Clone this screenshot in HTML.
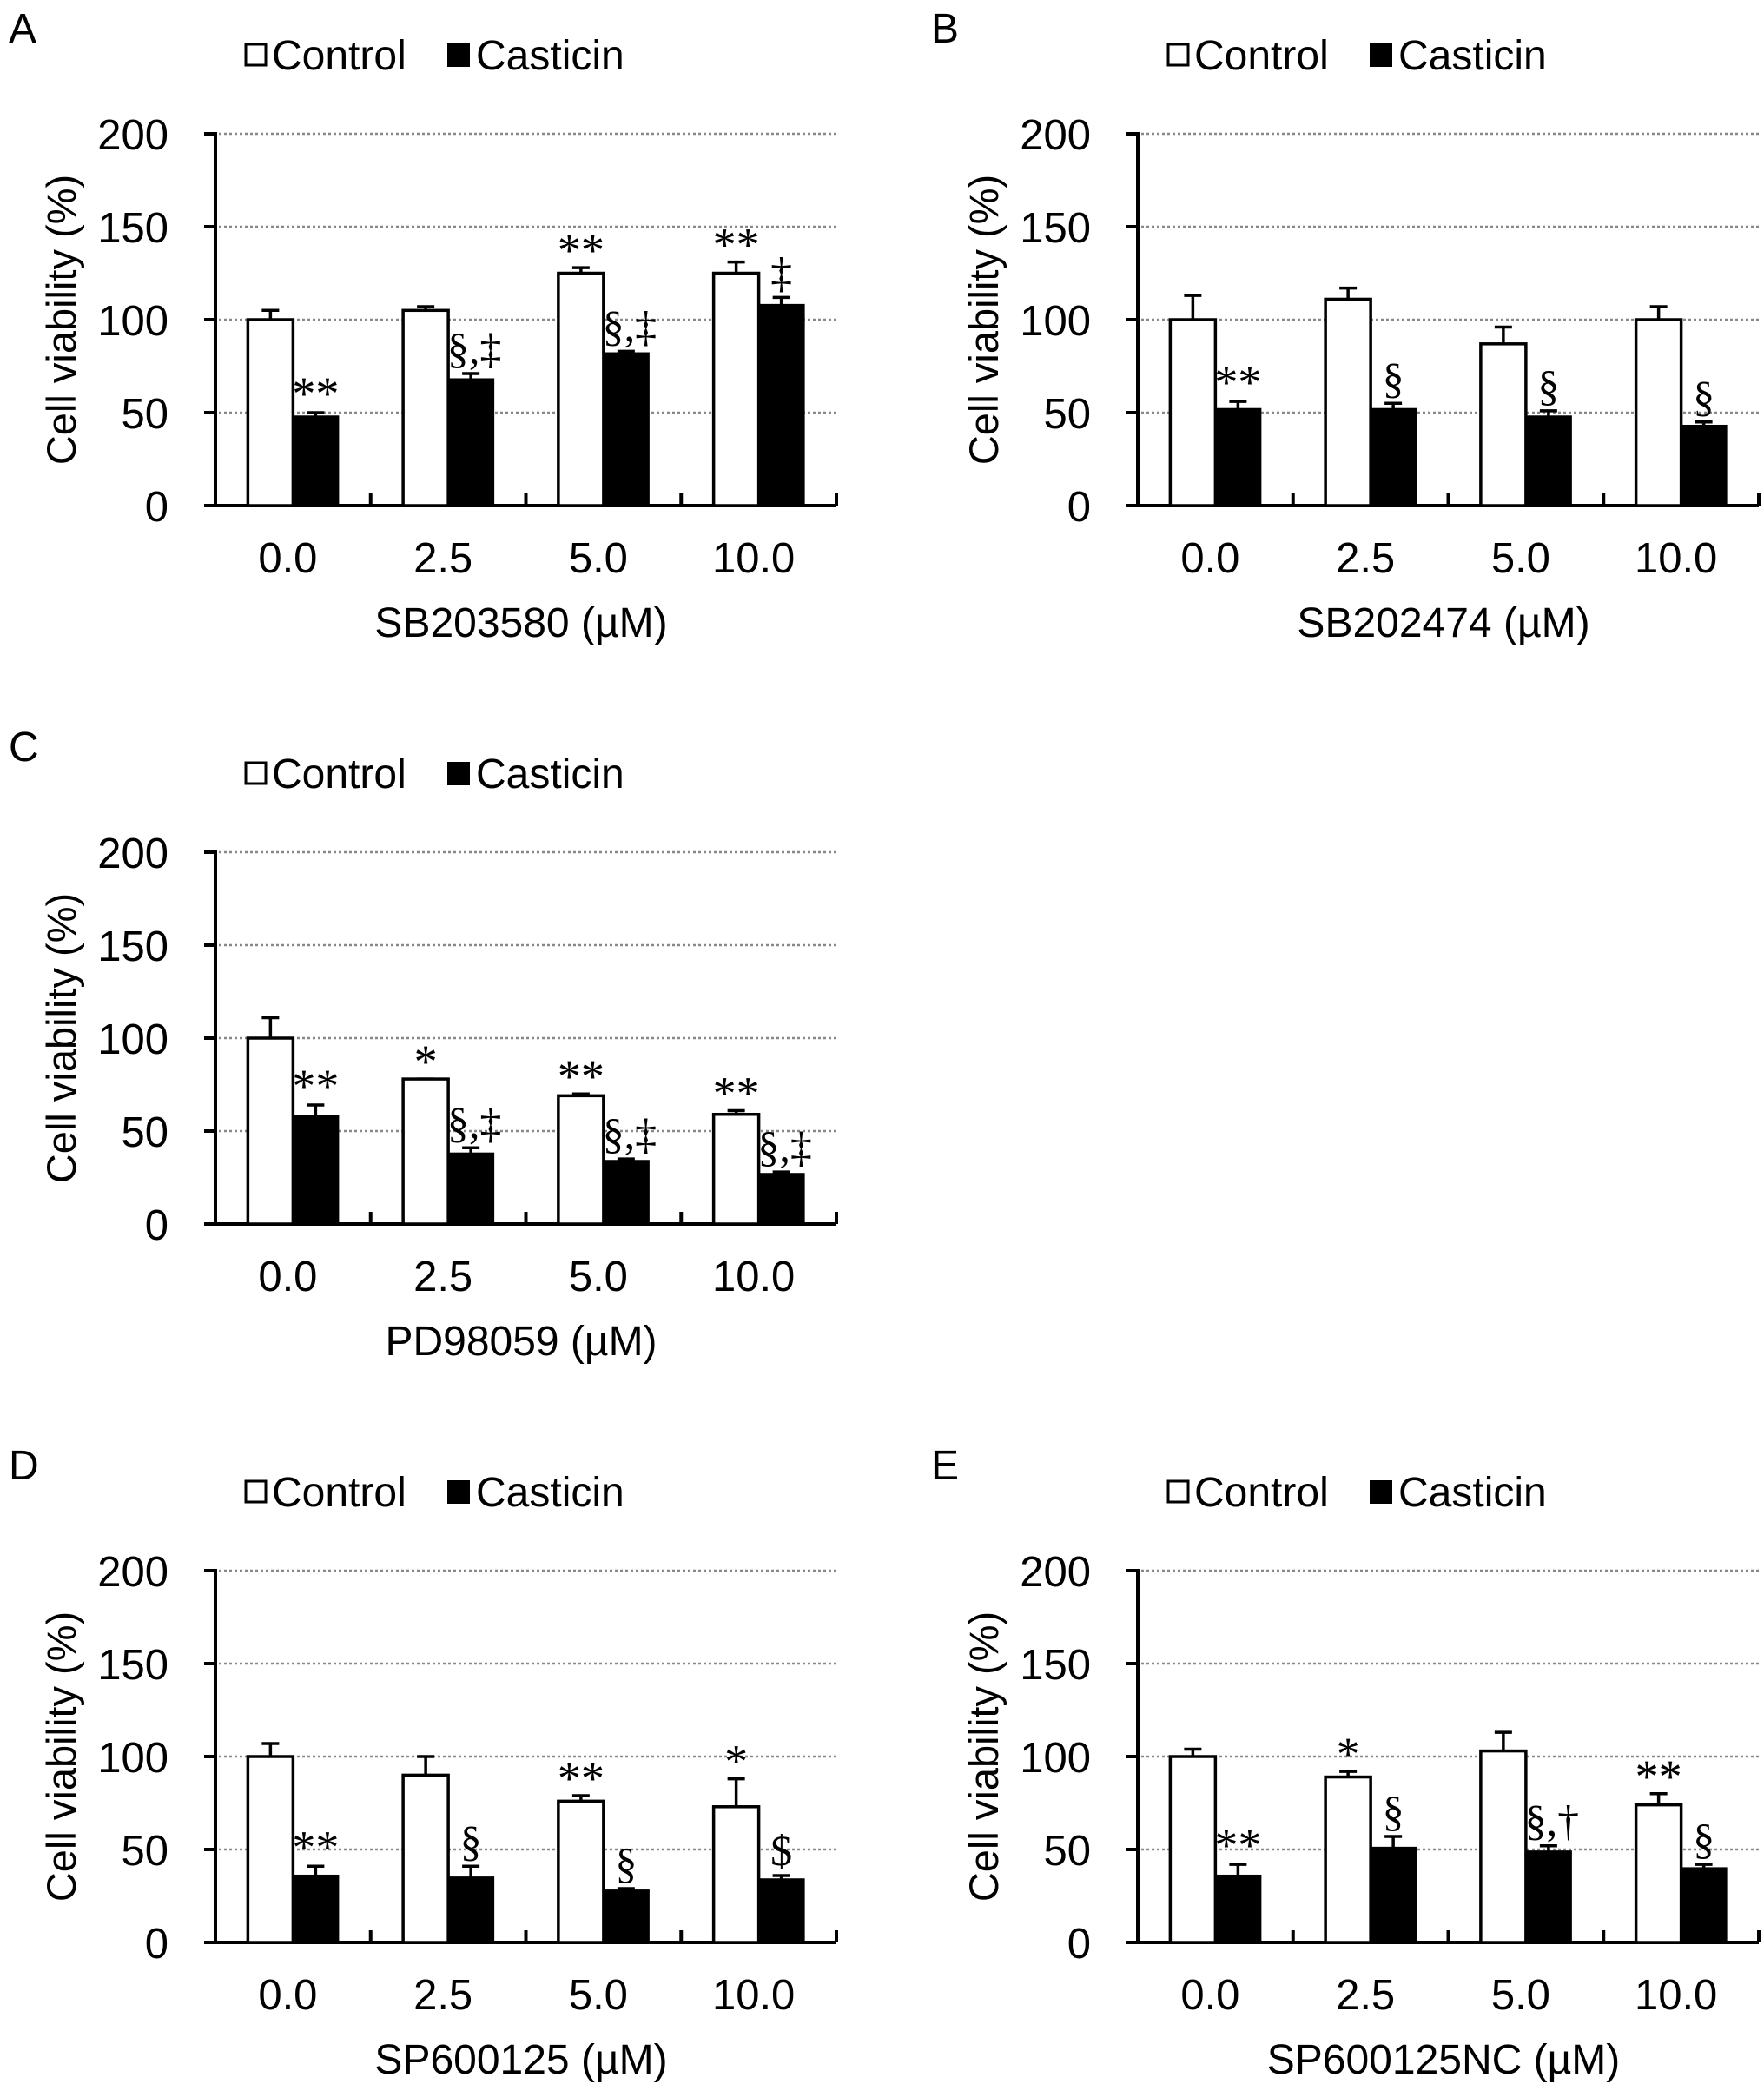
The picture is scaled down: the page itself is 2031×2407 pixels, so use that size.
<!DOCTYPE html>
<html><head><meta charset="utf-8">
<style>
html,body{margin:0;padding:0;background:#fff;}
svg{display:block;font-family:"Liberation Sans",Arial,sans-serif;}
</style></head>
<body>
<svg id="fig" width="2031" height="2407" viewBox="0 0 2031 2407" xmlns="http://www.w3.org/2000/svg"></svg>
<script>
const categories = ["0.0","2.5","5.0","10.0"];
const yTicks = [0,50,100,150,200];
const panelLetters = ["A","B","C","D","E"];
const xTitles = ["SB203580 (µM)","SB202474 (µM)","PD98059 (µM)","SP600125 (µM)","SP600125NC (µM)"];
const controlA = [100,105,125,125];
const controlErrA = [5,2,3,6];
const casticinA = [48,68,82,108];
const casticinErrA = [2,3,1,4];
const controlB = [100,111,87,100];
const controlErrB = [13,6,9,7];
const casticinB = [52,52,48,43];
const casticinErrB = [4,3,3,2];
const controlC = [100,78,69,59];
const controlErrC = [11,0,1,2];
const casticinC = [58,38,34,27];
const casticinErrC = [6,3,1,1];
const controlD = [100,90,76,73];
const controlErrD = [7,10,3,15];
const casticinD = [36,35,28,34];
const casticinErrD = [5,6,1,2];
const controlE = [100,89,103,74];
const controlErrE = [4,3,10,6];
const casticinE = [36,51,49,40];
const casticinErrE = [6,6,3,2];
const ctrlMarksA = ["","","**","**"];
const castMarksA = ["**","§,‡","§,‡","‡"];
const ctrlMarksB = ["","","",""];
const castMarksB = ["**","§","§","§"];
const ctrlMarksC = ["","*","**","**"];
const castMarksC = ["**","§,‡","§,‡","§,‡"];
const ctrlMarksD = ["","","**","*"];
const castMarksD = ["**","§","§","$"];
const ctrlMarksE = ["","*","","**"];
const castMarksE = ["**","§","§,†","§"];

const NS = "http://www.w3.org/2000/svg";
const svg = document.getElementById("fig");
function mk(tag, attrs, parent){
  const e = document.createElementNS(NS, tag);
  for (const k in attrs) e.setAttribute(k, attrs[k]);
  (parent||svg).appendChild(e);
  return e;
}
const panels = [
  {ox:0, oy:0, c:controlA, ce:controlErrA, k:casticinA, ke:casticinErrA, cm:ctrlMarksA, km:castMarksA},
  {ox:1062, oy:0, c:controlB, ce:controlErrB, k:casticinB, ke:casticinErrB, cm:ctrlMarksB, km:castMarksB},
  {ox:0, oy:827, c:controlC, ce:controlErrC, k:casticinC, ke:casticinErrC, cm:ctrlMarksC, km:castMarksC},
  {ox:0, oy:1654, c:controlD, ce:controlErrD, k:casticinD, ke:casticinErrD, cm:ctrlMarksD, km:castMarksD},
  {ox:1062, oy:1654, c:controlE, ce:controlErrE, k:casticinE, ke:casticinErrE, cm:ctrlMarksE, km:castMarksE}
];
function markSize(s){ return s.includes("*") ? 54 : 50; }
panels.forEach((p, i) => {
  const g = mk("g", {});
  
  
  const ax = 248 + p.ox, yTop = 154 + p.oy, y0 = 582 + p.oy, xEnd = 963 + p.ox;
  const catW = (xEnd - ax) / categories.length;
  const yS = v => y0 - (v / 200) * (y0 - yTop);
  const L = mk("text", {x: 10 + p.ox, y: 49 + p.oy, "font-size": 48}, g);
  L.textContent = panelLetters[i];
  
  
  const lg = mk("g", {}, g);
  
  
  mk("rect", {x: 283 + p.ox, y: 51 + p.oy, width: 23, height: 24, fill: "#fff", stroke: "#000", "stroke-width": 3}, lg);
  const t1 = mk("text", {x: 313 + p.ox, y: 80 + p.oy, "font-size": 48}, lg);
  t1.textContent = "Control";
  
  
  mk("rect", {x: 515 + p.ox, y: 50 + p.oy, width: 26, height: 27, fill: "#000"}, lg);
  const t2 = mk("text", {x: 548 + p.ox, y: 80 + p.oy, "font-size": 48}, lg);
  t2.textContent = "Casticin";
  
  
  yTicks.forEach(v => {
    const y = yS(v);
    if (v > 0) {
      const gl = mk("line", {x1: ax + 4, y1: y, x2: xEnd, y2: y, stroke: "#888", "stroke-width": 2.5, "stroke-dasharray": "3 3"}, g);
      
      
    }
    mk("line", {x1: ax - 13, y1: y, x2: ax, y2: y, stroke: "#000", "stroke-width": 4}, g);
    const tl = mk("text", {x: ax - 54, y: y + 18, "font-size": 49, "text-anchor": "end"}, g);
    tl.textContent = v;
    
    
  });
  const ya = mk("line", {x1: ax, y1: yTop - 2, x2: ax, y2: y0 + 2, stroke: "#000", "stroke-width": 4}, g);
  
  
  const xa = mk("line", {x1: ax - 13, y1: y0, x2: xEnd, y2: y0, stroke: "#000", "stroke-width": 4}, g);
  
  
  for (let j = 1; j <= categories.length; j++) {
    mk("line", {x1: ax + j * catW, y1: y0, x2: ax + j * catW, y2: y0 - 14, stroke: "#000", "stroke-width": 4}, g);
  }
  const yt = mk("text", {x: 0, y: 0, "font-size": 47, "text-anchor": "middle", transform: `translate(${87 + p.ox},${(yTop + y0) / 2}) rotate(-90)`}, g);
  yt.textContent = "Cell viability (%)";
  
  
  categories.forEach((cat, j) => {
    const cx = ax + j * catW + catW / 2;
    const bw = 52;
    const yc = yS(p.c[j]);
    const ye = yS(p.c[j] + p.ce[j]);
    mk("line", {x1: cx - bw / 2, y1: ye, x2: cx - bw / 2, y2: yc, stroke: "#000", "stroke-width": 3.5}, g);
    mk("line", {x1: cx - bw / 2 - 10, y1: ye, x2: cx - bw / 2 + 10, y2: ye, stroke: "#000", "stroke-width": 3.5}, g);
    const rc = mk("rect", {x: cx - bw, y: yc, width: bw, height: y0 - yc, fill: "#fff", stroke: "#000", "stroke-width": 3.5}, g);
    
    
    const yk = yS(p.k[j]);
    const yke = yS(p.k[j] + p.ke[j]);
    mk("line", {x1: cx + bw / 2, y1: yke, x2: cx + bw / 2, y2: yk, stroke: "#000", "stroke-width": 3.5}, g);
    mk("line", {x1: cx + bw / 2 - 10, y1: yke, x2: cx + bw / 2 + 10, y2: yke, stroke: "#000", "stroke-width": 3.5}, g);
    const rk = mk("rect", {x: cx, y: yk, width: bw, height: y0 - yk, fill: "#000", stroke: "#000", "stroke-width": 2}, g);
    
    
    if (p.cm[j]) {
      const s = p.cm[j];
      const a = mk("text", {x: cx - bw / 2, y: ye - 10 + (s.includes("*") ? 8 : 0), "font-size": markSize(s), "text-anchor": "middle", "font-family": "Liberation Serif, serif"}, g);
      a.textContent = s;
      
      
    }
    if (p.km[j]) {
      const s = p.km[j];
      const a = mk("text", {x: cx + bw / 2 + (s.length > 2 ? 4 : 0), y: yke - 12 + (s.includes("*") ? 8 : 0), "font-size": markSize(s), "text-anchor": "middle", "font-family": "Liberation Serif, serif"}, g);
      a.textContent = s;
      
      
    }
    const xl = mk("text", {x: cx - 6, y: 659 + p.oy, "font-size": 49, "text-anchor": "middle"}, g);
    xl.textContent = cat;
    
    
  });
  const xt = mk("text", {x: 600 + p.ox, y: 733 + p.oy, "font-size": 48, "text-anchor": "middle"}, g);
  xt.textContent = xTitles[i];
  
  
});
</script>
</body></html>
